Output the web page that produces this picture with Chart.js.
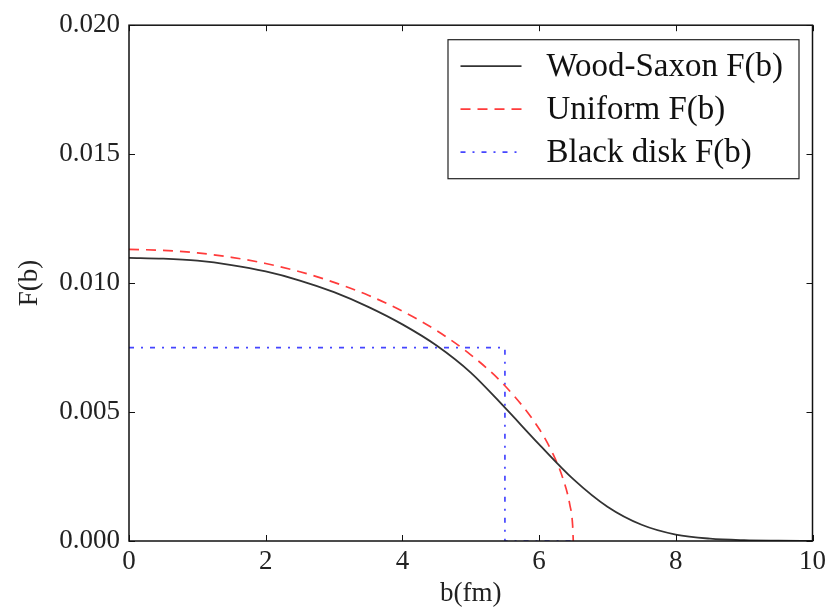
<!DOCTYPE html>
<html>
<head>
<meta charset="utf-8">
<script src="https://cdn.jsdelivr.net/npm/chart.js@4.4.0/dist/chart.umd.min.js"></script>
<style>
    html, body { margin: 0; padding: 0; background: #fff; }
</style>
</head>
<body>
<canvas id="fbChart" width="831" height="607"></canvas>
<script>
// impact parameter b (fm) and F(b) for the three profiles
const wsB = [0, 0.5, 1, 1.5, 2, 2.5, 3, 3.5, 4, 4.5, 5, 5.5, 6, 6.5, 7, 7.5, 8, 8.5, 9, 9.5, 10];
const wsF = [0.01098, 0.01095, 0.01087, 0.01070, 0.01045, 0.01010, 0.00965, 0.00908, 0.00840, 0.00758, 0.00653, 0.00517, 0.00375, 0.00240, 0.00133, 0.00063, 0.00025, 0.00009, 0.00003, 0.00001, 0.0];

const uniB = [0, 0.5, 1, 1.5, 2, 2.5, 3, 3.5, 4, 4.5, 5, 5.5, 6, 6.2, 6.35, 6.45, 6.49, 6.5];
const uniF = [0.01131, 0.01127, 0.01117, 0.01100, 0.01076, 0.01044, 0.01003, 0.00953, 0.00891, 0.00816, 0.00722, 0.00602, 0.00435, 0.00339, 0.00241, 0.00140, 0.00063, 0.0];

const diskB = [0, 5.5, 5.5, 6.5];
const diskF = [0.0075, 0.0075, 0, 0];

const xTicks = [0, 2, 4, 6, 8, 10];
const yTicks = [0.000, 0.005, 0.010, 0.015, 0.020];

const seriesLabels = ['Wood-Saxon F(b)', 'Uniform F(b)', 'Black disk F(b)'];

const SERIF = '"Liberation Serif", "DejaVu Serif", serif';

function toPoints(xs, ys) {
    return xs.map((v, i) => ({ x: v, y: ys[i] }));
}

// frame, inward ticks on all four sides and the boxed legend in the upper right
const frameLegend = {
    id: 'frameLegend',
    afterDatasetsDraw(chart) {
        const { ctx, chartArea: a, scales: { x, y } } = chart;
        ctx.save();

        const seg = (x1, y1, x2, y2) => {
            ctx.beginPath();
            ctx.moveTo(x1, y1);
            ctx.lineTo(x2, y2);
            ctx.stroke();
        };

        ctx.strokeStyle = '#111';
        ctx.lineWidth = 1;
        xTicks.forEach(v => {
            const px = Math.round(x.getPixelForValue(v)) + 0.5;
            seg(px, a.bottom, px, a.bottom - 6);
            seg(px, a.top, px, a.top + 6);
        });
        yTicks.forEach(v => {
            const py = Math.round(y.getPixelForValue(v)) + 0.5;
            seg(a.left, py, a.left + 6, py);
            seg(a.right, py, a.right - 6, py);
        });

        ctx.lineWidth = 1.5;
        ctx.strokeRect(a.left, a.top, a.right - a.left, a.bottom - a.top);

        // legend
        const boxW = 351, boxH = 139;
        const bx = a.right - 14 - boxW;
        const by = a.top + 14;
        ctx.fillStyle = '#fff';
        ctx.fillRect(bx, by, boxW, boxH);
        ctx.lineWidth = 1.2;
        ctx.strokeStyle = '#222';
        ctx.strokeRect(bx + 0.5, by + 0.5, boxW, boxH);

        ctx.font = '33px ' + SERIF;
        ctx.textBaseline = 'middle';
        ctx.textAlign = 'left';
        chart.data.datasets.forEach((ds, i) => {
            const ry = by + 27 + i * 43;
            ctx.strokeStyle = ds.borderColor;
            ctx.lineWidth = ds.borderWidth;
            ctx.setLineDash(ds.borderDash || []);
            seg(bx + 13, ry, bx + 74, ry);
            ctx.setLineDash([]);
            ctx.fillStyle = '#111';
            ctx.fillText(ds.label, bx + 99, ry + 1);
        });

        ctx.restore();
    }
};

const ctx = document.getElementById('fbChart').getContext('2d');
const fbChart = new Chart(ctx, {
    type: 'line',
    data: {
        datasets: [
            {
                label: seriesLabels[0],
                data: toPoints(wsB, wsF),
                borderColor: '#333333',
                borderWidth: 1.8,
                cubicInterpolationMode: 'monotone',
                pointRadius: 0
            },
            {
                label: seriesLabels[1],
                data: toPoints(uniB, uniF),
                borderColor: '#ff3b3b',
                borderWidth: 1.7,
                borderDash: [10, 7],
                cubicInterpolationMode: 'monotone',
                pointRadius: 0
            },
            {
                label: seriesLabels[2],
                data: toPoints(diskB, diskF),
                borderColor: '#4545ff',
                borderWidth: 1.7,
                borderDash: [5, 7, 2, 7],
                tension: 0,
                pointRadius: 0
            }
        ]
    },
    options: {
        responsive: false,
        animation: false,
        layout: { padding: { top: 21, right: 17, left: 0, bottom: 0 } },
        plugins: {
            legend: { display: false },
            tooltip: { enabled: false }
        },
        scales: {
            x: {
                type: 'linear',
                min: 0,
                max: 10,
                grid: { display: false, drawTicks: false },
                border: { display: false },
                afterBuildTicks: s => { s.ticks = xTicks.map(v => ({ value: v })); },
                afterFit: s => { s.height = 66; },
                ticks: {
                    padding: 5,
                    color: '#222',
                    font: { family: SERIF, size: 27 },
                    callback: v => String(v)
                },
                title: {
                    display: true,
                    text: 'b(fm)',
                    color: '#222',
                    font: { family: SERIF, size: 27, lineHeight: 1 },
                    padding: { top: 0, bottom: 0 }
                }
            },
            y: {
                type: 'linear',
                min: 0,
                max: 0.02,
                grid: { display: false, drawTicks: false },
                border: { display: false },
                afterBuildTicks: s => { s.ticks = yTicks.map(v => ({ value: v })); },
                afterFit: s => { s.width = 129; },
                ticks: {
                    padding: 9,
                    color: '#222',
                    font: { family: SERIF, size: 27 },
                    callback: v => Number(v).toFixed(3)
                },
                title: {
                    display: true,
                    text: 'F(b)',
                    color: '#222',
                    font: { family: SERIF, size: 27 },
                    padding: { top: 14, bottom: 0 }
                }
            }
        }
    },
    plugins: [frameLegend]
});
</script>
</body>
</html>
